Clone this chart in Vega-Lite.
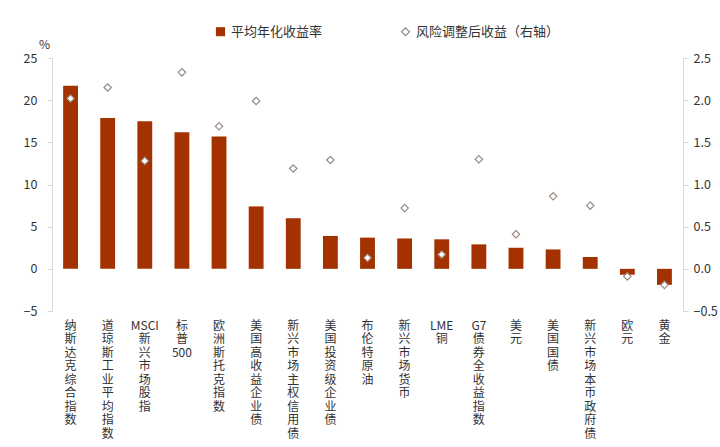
{
  "$schema": "https://vega.github.io/schema/vega-lite/v6.json",
  "width": 631,
  "height": 253,
  "autosize": {"type": "none"},
  "padding": {"left": 52, "top": 58, "right": 37, "bottom": 136},
  "config": {
    "font": "Noto Sans CJK SC",
    "view": {"stroke": null},
    "legend": {
      "orient": "none",
      "legendX": 162,
      "legendY": -33,
      "direction": "horizontal",
      "title": null,
      "padding": 0,
      "columnPadding": 76,
      "labelOffset": 4,
      "labelFontSize": 13,
      "labelColor": "#333333",
      "symbolSize": 64,
      "symbolStrokeWidth": 1.2
    }
  },
  "data": {
    "values": [
      {"asset": "纳斯达克综合指数", "ret": 21.7, "risk": 2.02},
      {"asset": "道琼斯工业平均指数", "ret": 17.9, "risk": 2.15},
      {"asset": "MSCI 新兴市场股指", "ret": 17.5, "risk": 1.28},
      {"asset": "标普500", "ret": 16.2, "risk": 2.33},
      {"asset": "欧洲斯托克指数", "ret": 15.7, "risk": 1.69},
      {"asset": "美国高收益企业债", "ret": 7.4, "risk": 1.99},
      {"asset": "新兴市场主权信用债", "ret": 6.0, "risk": 1.19},
      {"asset": "美国投资级企业债", "ret": 3.9, "risk": 1.29},
      {"asset": "布伦特原油", "ret": 3.7, "risk": 0.13},
      {"asset": "新兴市场货币", "ret": 3.6, "risk": 0.72},
      {"asset": "LME 铜", "ret": 3.5, "risk": 0.17},
      {"asset": "G7债券全收益指数", "ret": 2.9, "risk": 1.30},
      {"asset": "美元", "ret": 2.5, "risk": 0.41},
      {"asset": "美国国债", "ret": 2.3, "risk": 0.86},
      {"asset": "新兴市场本币政府债", "ret": 1.4, "risk": 0.75},
      {"asset": "欧元", "ret": -0.7, "risk": -0.09},
      {"asset": "黄金", "ret": -1.9, "risk": -0.19}
    ]
  },
  "encoding": {
    "x": {
      "field": "asset",
      "type": "nominal",
      "sort": null,
      "scale": {"paddingInner": 0.6, "paddingOuter": 0.3},
      "axis": {
        "title": null,
        "domain": false,
        "ticks": false,
        "labelAngle": 0,
        "labelPadding": 9,
        "labelBaseline": "top",
        "labelFontSize": 12,
        "labelLineHeight": 13.5,
        "labelColor": "#333333",
        "labelLimit": 0,
        "labelExpr": "split(replace(replace(replace(replace(datum.label, ' ', ''), regexp('([一-鿿])', 'g'), '|$1|'), regexp('[|]+', 'g'), '|'), regexp('^[|]|[|]$', 'g'), ''), '|')"
      }
    }
  },
  "layer": [
    {
      "layer": [
        {
          "mark": {"type": "bar"},
          "encoding": {
            "y": {
              "field": "ret",
              "type": "quantitative",
              "scale": {"domain": [-5, 25], "nice": false},
              "axis": {
                "title": "%",
                "titleAngle": 0,
                "titleAlign": "center",
                "titleBaseline": "bottom",
                "titleX": -8,
                "titleY": -7,
                "titleFontSize": 12,
                "titleFontWeight": "normal",
                "titleColor": "#333333",
                "values": [-5, 0, 5, 10, 15, 20, 25],
                "grid": false,
                "domainColor": "#d9d9d9",
                "tickColor": "#d9d9d9",
                "tickSize": 5,
                "labelPadding": 10,
                "labelFontSize": 12.5,
                "labelColor": "#333333"
              }
            },
            "fill": {
              "datum": "平均年化收益率",
              "type": "nominal",
              "scale": {
                "domain": ["平均年化收益率", "风险调整后收益（右轴）"],
                "range": ["#a33200", "#ffffff"]
              }
            }
          }
        },
        {
          "mark": {"type": "rule", "color": "#d9d9d9", "strokeWidth": 1},
          "encoding": {"y": {"datum": 0}}
        }
      ]
    },
    {
      "mark": {"type": "point", "filled": true, "size": 55, "strokeWidth": 1.2, "opacity": 1},
      "encoding": {
        "y": {
          "field": "risk",
          "type": "quantitative",
          "scale": {"domain": [-0.5, 2.5], "nice": false},
          "axis": {
            "title": null,
            "orient": "right",
            "values": [-0.5, 0, 0.5, 1, 1.5, 2, 2.5],
            "format": ".1f",
            "grid": false,
            "domainColor": "#d9d9d9",
            "tickColor": "#d9d9d9",
            "tickSize": 5,
            "labelPadding": 5,
            "labelFontSize": 12.5,
            "labelColor": "#333333"
          }
        },
        "fill": {
          "datum": "风险调整后收益（右轴）",
          "type": "nominal",
          "scale": {
            "domain": ["平均年化收益率", "风险调整后收益（右轴）"],
            "range": ["#a33200", "#ffffff"]
          }
        },
        "stroke": {
          "datum": "风险调整后收益（右轴）",
          "type": "nominal",
          "scale": {
            "domain": ["平均年化收益率", "风险调整后收益（右轴）"],
            "range": ["#a33200", "#9a8a82"]
          }
        },
        "shape": {
          "datum": "风险调整后收益（右轴）",
          "type": "nominal",
          "scale": {
            "domain": ["平均年化收益率", "风险调整后收益（右轴）"],
            "range": ["square", "diamond"]
          }
        }
      }
    }
  ],
  "resolve": {"scale": {"y": "independent"}}
}
